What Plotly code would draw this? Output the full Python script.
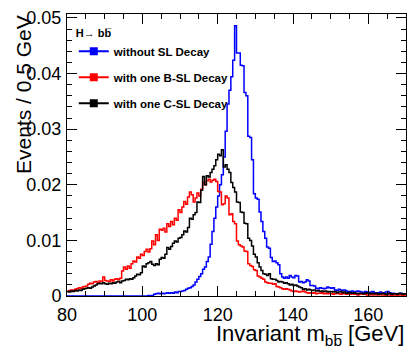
import plotly.graph_objects as go

# bin edges: 80 -> 170 GeV, 0.5 GeV per bin (180 bins)
bin_lo = 80.0
bin_w = 0.5

# bin contents in units of 1e-4 (Events / 0.5 GeV), 10 bins per row = 5 GeV
without_sl = [
    0, 0, 0, 0, 0, 0, 0, 0, 0, 0,
    0, 0, 0, 0, 0, 0, 0, 0, 0, 0,
    0, 0, 0, 0, 0, 0, 0, 0, 0, 0,
    0, 0, 0, 0, 0, 0, 0, 0, 0, 0,
    0, 0, 0, 1, 0, 1, 3, 4, 5, 4,
    5, 4, 5, 6, 5, 6, 5, 7, 6, 8,
    8, 9, 10, 12, 14, 15, 17, 20, 25, 30,
    35, 40, 48, 52, 62, 70, 93, 116, 140, 160,
    180, 200, 218, 250, 296, 345, 370, 394, 424, 486,
    437, 437, 415, 414, 366, 360, 287, 285, 245, 184,
    176, 174, 151, 134, 116, 104, 88, 86, 69, 62,
    63, 60, 56, 40, 34, 32, 34, 32, 37, 34,
    33, 37, 36, 25, 26, 24, 25, 29, 27, 19,
    19, 18, 14, 13, 15, 14, 13, 14, 16, 15,
    14, 15, 11, 10, 12, 11, 10, 11, 9, 8,
    8, 9, 7, 8, 9, 8, 7, 6, 8, 7,
    6, 7, 8, 6, 5, 6, 7, 5, 6, 7,
    8, 6, 4, 5, 4, 3, 4, 5, 4, 3,
]
one_b_sl = [
    8, 10, 11, 10, 12, 13, 15, 14, 16, 17,
    18, 21, 23, 22, 25, 26, 24, 27, 26, 34,
    28, 27, 26, 29, 27, 30, 31, 29, 32, 45,
    52, 48, 54, 50, 58, 63, 61, 70, 68, 75,
    73, 80, 84, 79, 85, 99, 92, 110, 100, 120,
    118, 122, 115, 130, 125, 134, 128, 140, 136, 155,
    150, 160, 170, 165, 178, 187, 182, 169, 176, 185,
    180, 192, 204, 200, 207, 210, 205, 208, 210, 206,
    188, 187, 164, 166, 180, 176, 146, 148, 134, 130,
    99, 92, 90, 88, 81, 80, 58, 55, 53, 47,
    46, 36, 34, 32, 30, 25, 24, 23, 23, 21,
    22, 17, 16, 15, 13, 12, 13, 12, 11, 9,
    8, 9, 8, 7, 8, 9, 7, 6, 5, 6,
    5, 6, 4, 5, 5, 6, 4, 5, 4, 5,
    4, 3, 4, 5, 4, 3, 4, 4, 3, 4,
    3, 4, 3, 4, 2, 3, 4, 3, 3, 2,
    2, 3, 2, 3, 2, 2, 3, 2, 2, 1,
    2, 2, 1, 2, 2, 1, 2, 2, 1, 2,
]
one_c_sl = [
    8, 7, 9, 8, 10, 9, 11, 10, 12, 13,
    14, 15, 14, 16, 18, 20, 22, 23, 22, 24,
    22, 21, 23, 22, 24, 23, 25, 26, 24, 27,
    28, 30, 29, 31, 30, 33, 36, 39, 38, 42,
    54, 52, 58, 60, 62, 57, 55, 58, 56, 66,
    69, 68, 75, 87, 84, 89, 95, 99, 97, 104,
    105, 110, 117, 115, 123, 140, 138, 146, 150, 169,
    168, 190, 215, 200, 216, 214, 222, 228, 234, 245,
    255, 252, 263, 232, 236, 228, 222, 204, 195, 187,
    169, 168, 151, 150, 131, 130, 104, 100, 90, 75,
    70, 60, 52, 46, 40, 39, 37, 40, 31, 30,
    30, 28, 25, 26, 25, 23, 24, 22, 20, 21,
    19, 20, 18, 16, 15, 12, 13, 11, 12, 11,
    10, 11, 9, 10, 8, 9, 8, 9, 7, 8,
    8, 7, 8, 6, 7, 8, 6, 7, 5, 6,
    6, 5, 6, 5, 4, 5, 5, 4, 5, 6,
    5, 4, 5, 4, 5, 3, 4, 5, 4, 3,
    4, 5, 3, 4, 4, 3, 5, 4, 3, 4,
]
unit = 1e-4

series = [
    ("without SL Decay", without_sl, "#0000ff"),
    ("with one B-SL Decay", one_b_sl, "#ff0000"),
    ("with one C-SL Decay", one_c_sl, "#000000"),
]

FONT = "Liberation Sans, Arial, Helvetica, sans-serif"

fig = go.Figure()
for i, (name, vals, col) in enumerate(series):
    edges = [bin_lo + bin_w * k for k in range(len(vals) + 1)]
    ys = [v * unit for v in vals] + [vals[-1] * unit]
    fig.add_trace(go.Scatter(x=edges, y=ys, mode="lines", line=dict(color=col, width=1.5, shape="hv"),
                             showlegend=False, hoverinfo="skip"))
    # legend entry in ROOT style: line + square marker
    fig.add_trace(go.Scatter(x=[None], y=[None], mode="lines+markers", name=name,
                             line=dict(color=col, width=2),
                             marker=dict(symbol="square", size=8, color=col),
                             legendgroup=str(i)))

axis_common = dict(showline=True, linecolor="black", linewidth=1, mirror="allticks",
                   ticks="inside", tickcolor="black", showgrid=False, zeroline=False,
                   tickfont=dict(family=FONT, size=18, color="black"))

fig.update_xaxes(range=[80, 170], tick0=80, dtick=20, ticklen=10,
                 minor=dict(dtick=5, ticklen=5, ticks="inside", tickcolor="black", showgrid=False),
                 ticklabelstandoff=2, **axis_common)
fig.update_yaxes(range=[0, 0.0507], tick0=0, dtick=0.01, ticklen=10,
                 minor=dict(dtick=0.002, ticklen=5, ticks="inside", tickcolor="black", showgrid=False),
                 ticklabelstandoff=1, **axis_common)

fig.add_annotation(text="Events / 0.5 GeV", textangle=-90, xref="paper", yref="paper",
                   x=-0.128, y=0.715, xanchor="center", yanchor="middle", showarrow=False,
                   font=dict(family=FONT, size=21, color="black"))
fig.add_annotation(text="Invariant m<sub>bb\u0305</sub> [GeV]", xref="paper", yref="paper",
                   x=1.0, y=-0.082, xanchor="right", yanchor="top", showarrow=False,
                   font=dict(family=FONT, size=22, color="black"))

fig.update_layout(
    width=415, height=352,
    margin=dict(l=67, r=8, t=8, b=56),
    paper_bgcolor="white", plot_bgcolor="white",
    legend=dict(x=0.02, y=0.97, xanchor="left", yanchor="top", bgcolor="rgba(0,0,0,0)",
                traceorder="grouped", tracegroupgap=7,
                title=dict(text="H\u2192 bb\u0305", font=dict(family=FONT, size=11, color="black")),
                font=dict(family=FONT, size=11.5, color="black", weight="bold")),
)

fig.write_html("out.html", config={"displayModeBar": False},
               post_script="document.body.style.margin='0';document.body.style.padding='0';")
